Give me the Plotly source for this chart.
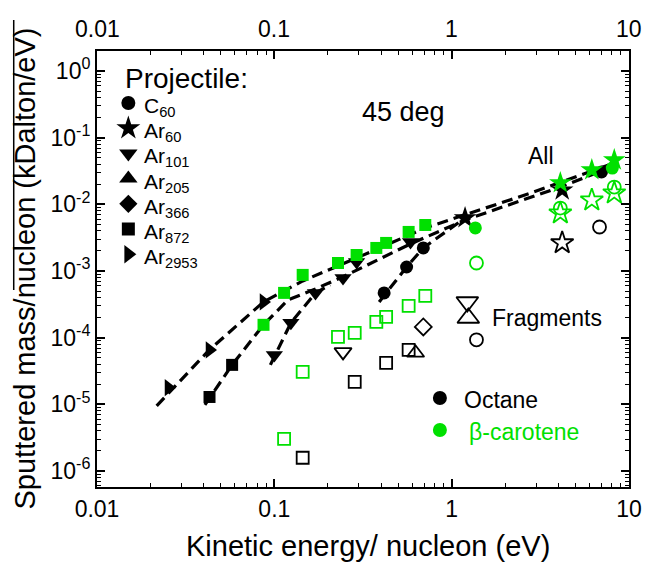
import plotly.graph_objects as go

GREEN = "#00E000"
BLACK = "#000000"

# ---------------- data (kinetic energy / nucleon in eV, sputtered mass / nucleon in kDalton/eV)
# Octane, all sputtered (filled black)
c60_oct_x = [0.416, 0.557, 0.692, 7.0]
c60_oct_y = [4.7e-4, 1.15e-3, 2.22e-3, 3.06e-2]
ar60_oct_x = [1.19, 4.2]
ar60_oct_y = [6.25e-3, 1.64e-2]
ar101_oct_x = [0.1, 0.124, 0.1706, 0.244, 0.291, 0.586]
ar101_oct_y = [5.52e-5, 1.67e-4, 4.7e-4, 7.88e-4, 1.37e-3, 2.73e-3]
ar872_oct_x = [0.0431, 0.0578]
ar872_oct_y = [1.29e-5, 3.91e-5]
ar2953_oct_x = [0.0253, 0.0431, 0.0869]
ar2953_oct_y = [1.78e-5, 6.56e-5, 3.44e-4]

# beta-carotene, all sputtered (filled green)
ar872_bc_x = [0.0869, 0.1135, 0.1445, 0.2285, 0.291, 0.376, 0.427, 0.572, 0.710]
ar872_bc_y = [1.56e-4, 4.7e-4, 8.75e-4, 1.32e-3, 1.74e-3, 2.22e-3, 2.64e-3, 3.86e-3, 4.91e-3]
c60_bc_x = [1.36, 8.05]
c60_bc_y = [4.43e-3, 3.5e-2]
ar60_bc_x = [4.1, 6.17, 8.26]
ar60_bc_y = [2.1e-2, 3.28e-2, 4.63e-2]

# Octane fragments (open black)
ar872_oct_fr_x = [0.1445, 0.284, 0.427, 0.572]
ar872_oct_fr_y = [1.58e-6, 2.17e-5, 4.19e-5, 6.56e-5]
ar101_oct_fr_x = [0.244]
ar101_oct_fr_y = [6.12e-5]
ar205_oct_fr_x = [0.626]
ar205_oct_fr_y = [5.9e-5]
ar366_oct_fr_x = [0.692]
ar366_oct_fr_y = [1.45e-4]
c60_oct_fr_x = [1.38, 6.82]
c60_oct_fr_y = [9.3e-5, 4.58e-3]
ar60_oct_fr_x = [4.2]
ar60_oct_fr_y = [2.64e-3]

# beta-carotene fragments (open green)
ar872_bc_fr_x = [0.1135, 0.1445, 0.2285, 0.284, 0.376, 0.427, 0.572, 0.710]
ar872_bc_fr_y = [3.04e-6, 3.07e-5, 1.03e-4, 1.18e-4, 1.73e-4, 2.05e-4, 3.0e-4, 4.24e-4]
c60_bc_fr_x = [1.38, 4.1, 8.26]
c60_bc_fr_y = [1.32e-3, 8.8e-3, 1.82e-2]
ar60_bc_fr_x = [4.1, 6.17, 8.26]
ar60_bc_fr_y = [7.4e-3, 1.16e-2, 1.48e-2]

# dashed guide curves
guide1_x = [0.0217, 0.0431, 0.0869, 0.1446, 0.291, 0.710, 1.225, 2.8, 8.26]
guide1_y = [9.5e-6, 6.6e-5, 3.44e-4, 7.1e-4, 1.57e-3, 4.43e-3, 7.18e-3, 1.48e-2, 4.18e-2]
guide2_x = [0.0406, 0.0578, 0.0869, 0.1194, 0.1706, 0.244, 0.586, 1.19, 4.10, 8.26]
guide2_y = [9.8e-6, 3.91e-5, 1.56e-4, 3.69e-4, 5.4e-4, 8.2e-4, 2.55e-3, 5.83e-3, 1.82e-2, 3.77e-2]
guide3_x = [0.095, 0.124, 0.1706, 0.2065]
guide3_y = [3.91e-5, 1.67e-4, 4.7e-4, 6.19e-4]
guide4_x = [0.39, 0.557, 0.692, 1.19]
guide4_y = [3.44e-4, 1.15e-3, 2.22e-3, 6.25e-3]

# tick labels
x_ticks = [0.01, 0.1, 1, 10]
x_ticktext = ["0.01", "0.1", "1", "10"]
y_ticks = [1e-6, 1e-5, 1e-4, 1e-3, 1e-2, 1e-1, 1]
y_ticktext = ["10<sup>-6</sup>", "10<sup>-5</sup>", "10<sup>-4</sup>", "10<sup>-3</sup>",
              "10<sup>-2</sup>", "10<sup>-1</sup>", "10<sup>0</sup>"]

legend_labels = ["C<sub>60</sub>", "Ar<sub>60</sub>", "Ar<sub>101</sub>", "Ar<sub>205</sub>",
                 "Ar<sub>366</sub>", "Ar<sub>872</sub>", "Ar<sub>2953</sub>"]
legend_symbols = ["circle", "star", "triangle-down", "triangle-up", "diamond", "square", "triangle-right"]

# ---------------- figure geometry
W, H = 654, 565
L, R, T, B = 97, 14, 51, 78
PW, PH = W - L - R, H - T - B
XR = [-2, 1]
YR = [-6.24, 0.301]
FONT = "Liberation Sans, Arial, sans-serif"


def px2x(px):  # pixel -> data (log x axis), used for layout glyphs only
    return 10 ** (XR[0] + (px - L) / PW * (XR[1] - XR[0]))


def py2y(py):
    return 10 ** (YR[1] - (py - T) / PH * (YR[1] - YR[0]))


def pxp(px):  # pixel -> paper
    return (px - L) / PW


def pyp(py):
    return (H - B - py) / PH


fig = go.Figure()

for gx, gy in [(guide1_x, guide1_y), (guide2_x, guide2_y), (guide3_x, guide3_y), (guide4_x, guide4_y)]:
    fig.add_trace(go.Scatter(x=gx, y=gy, mode="lines", line=dict(color=BLACK, width=3.2, dash="11px,6px"),
                             hoverinfo="skip", showlegend=False))

SIZES = {"circle": 13, "star": 17, "triangle-down": 15, "triangle-up": 15, "diamond": 13,
         "square": 12, "triangle-right": 15}


def pts(x, y, sym, color, open_=False, size=None):
    size = size or SIZES[sym]
    if open_:
        fig.add_trace(go.Scatter(x=x, y=y, mode="markers", showlegend=False, hoverinfo="skip",
                                 marker=dict(symbol=sym + "-open", size=size, color=color,
                                             line=dict(width=1.8, color=color))))
    else:
        fig.add_trace(go.Scatter(x=x, y=y, mode="markers", showlegend=False, hoverinfo="skip",
                                 marker=dict(symbol=sym, size=size, color=color,
                                             line=dict(width=0, color=color))))


# open fragments
pts(ar872_oct_fr_x, ar872_oct_fr_y, "square", BLACK, True)
pts(ar101_oct_fr_x, ar101_oct_fr_y, "triangle-down", BLACK, True)
pts(ar205_oct_fr_x, ar205_oct_fr_y, "triangle-up", BLACK, True)
pts(ar366_oct_fr_x, ar366_oct_fr_y, "diamond", BLACK, True)
pts(c60_oct_fr_x, c60_oct_fr_y, "circle", BLACK, True)
pts(ar60_oct_fr_x, ar60_oct_fr_y, "star", BLACK, True)
pts(ar872_bc_fr_x, ar872_bc_fr_y, "square", GREEN, True)
pts(c60_bc_fr_x, c60_bc_fr_y, "circle", GREEN, True)
pts(ar60_bc_fr_x, ar60_bc_fr_y, "star", GREEN, True)

# filled
pts(ar101_oct_x, ar101_oct_y, "triangle-down", BLACK)
pts(ar872_oct_x, ar872_oct_y, "square", BLACK)
pts(ar2953_oct_x, ar2953_oct_y, "triangle-right", BLACK)
pts(ar872_bc_x, ar872_bc_y, "square", GREEN)
pts(c60_oct_x, c60_oct_y, "circle", BLACK)
pts(ar60_oct_x, ar60_oct_y, "star", BLACK)
pts(c60_bc_x, c60_bc_y, "circle", GREEN)
pts(ar60_bc_x, ar60_bc_y, "star", GREEN)

# ---------- in-plot legend glyphs (layout positions in pixels)
LEG_X = 129
LEG_Y0 = 103
LEG_DY = 25.2
leg_py = [LEG_Y0 + i * LEG_DY for i in range(len(legend_symbols))]
for sy, sym in zip(leg_py, legend_symbols):
    pts([px2x(LEG_X)], [py2y(sy)], sym, BLACK, size=SIZES[sym] + 1)

# hourglass fragment symbol
pts([px2x(475)], [py2y(302)], "triangle-down", BLACK, True, size=19)
pts([px2x(476)], [py2y(318)], "triangle-up", BLACK, True, size=19)
# material legend dots
pts([px2x(447)], [py2y(398)], "circle", BLACK, size=14)
pts([px2x(447)], [py2y(430)], "circle", GREEN, size=14)

annotations = []


def txt(px, py, s, size, color=BLACK, xanchor="left", **kw):
    annotations.append(dict(x=pxp(px), y=pyp(py), xref="paper", yref="paper", text=s, showarrow=False,
                            xanchor=xanchor, yanchor="middle",
                            font=dict(family=FONT, size=size, color=color), **kw))


txt(124, 79, "Projectile:", 28)
for i, lab in enumerate(legend_labels):
    txt(143, leg_py[i] + 4, lab, 21)
txt(410, 112, "45 deg", 27, xanchor="center")
txt(550, 156, "All", 23, xanchor="center")
txt(556, 318, "Fragments", 23, xanchor="center")
txt(509, 400, "Octane", 23, xanchor="center")
txt(533, 432, "β-carotene", 23, color=GREEN, xanchor="center")

# top tick labels (mirror of bottom axis)
for v, t in zip(x_ticks, x_ticktext):
    px = L + (__import__("math").log10(v) - XR[0]) / (XR[1] - XR[0]) * PW
    txt(px, 29, t, 23, xanchor="center")

# axis titles
txt(374, 546, "Kinetic energy/ nucleon (eV)", 29, xanchor="center")
txt(24, 268, "Sputtered mass/nucleon (kDalton/eV)", 29, xanchor="center", textangle=-90)

minor_vals_x = [m * 10 ** e for e in range(-2, 1) for m in range(2, 10)]
minor_vals_y = [m * 10 ** e for e in range(-7, 1) for m in range(2, 10)]

axis_common = dict(type="log", showgrid=False, zeroline=False, showline=True, linecolor=BLACK, linewidth=2,
                   ticks="inside", ticklen=8, tickwidth=1.6, tickcolor=BLACK, mirror="allticks",
                   tickfont=dict(family=FONT, size=23, color=BLACK))

fig.update_layout(
    width=W, height=H,
    margin=dict(l=L, r=R, t=T, b=B, pad=0),
    paper_bgcolor="white", plot_bgcolor="white",
    showlegend=False,
    xaxis=dict(range=XR, tickmode="array", tickvals=x_ticks, ticktext=x_ticktext,
               minor=dict(tickmode="array", tickvals=minor_vals_x, ticks="inside", ticklen=4,
                          tickwidth=1.4, tickcolor=BLACK, showgrid=False),
               **axis_common),
    yaxis=dict(range=YR, tickmode="array", tickvals=y_ticks, ticktext=y_ticktext,
               minor=dict(tickmode="array", tickvals=minor_vals_y, ticks="inside", ticklen=4,
                          tickwidth=1.4, tickcolor=BLACK, showgrid=False),
               **axis_common),
    annotations=annotations,
    shapes=[dict(type="line", xref="paper", yref="paper", x0=pxp(12), x1=pxp(12),
                 y0=pyp(20), y1=pyp(290), line=dict(color=BLACK, width=1.5))],
)

fig.write_html("out.html")
